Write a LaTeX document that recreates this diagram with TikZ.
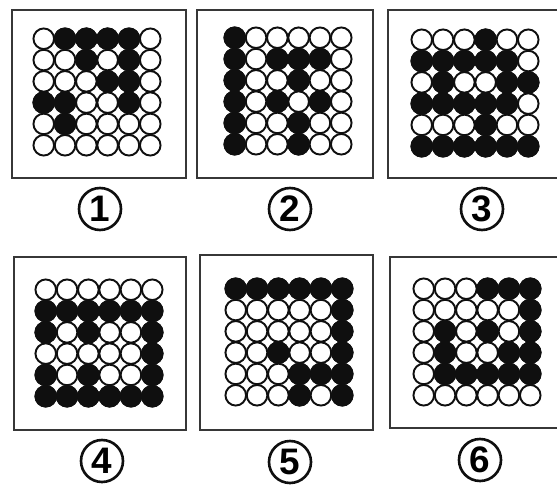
\documentclass[tikz,border=0pt]{standalone}
\usepackage{fontspec}
\setmainfont{Liberation Sans}
\usepackage{xcolor}
\definecolor{DotInk}{RGB}{15,15,15}
\definecolor{FrameGray}{RGB}{55,55,55}
\usetikzlibrary{positioning}

\begin{document}
\begin{tikzpicture}[x=0.02cm, y=-0.02cm]
\tikzstyle{dotw}=[draw=DotInk, fill=white, line width=1.1pt]
\tikzstyle{dotb}=[draw=DotInk, fill=DotInk, line width=1.1pt]
\tikzstyle{frame}=[draw=FrameGray, line width=1.6pt]
\tikzstyle{tag}=[circle, draw=DotInk, line width=1.5pt, minimum size=0.84cm, inner sep=0pt, font=\fontsize{21}{21}\selectfont\bfseries]

\useasboundingbox (0,0) rectangle (557,486);
\clip (0,0) rectangle (557,486);

\draw[frame] (12,10) rectangle (186,178);
\draw[frame] (197,10) rectangle (373,178);
\draw[frame] (388,10) rectangle (563,178);
\draw[frame] (14,257) rectangle (186,430);
\draw[frame] (200,255) rectangle (373,430);
\draw[frame] (390,257) rectangle (563,428);

% centre x / centre y / black cells as col/row
\foreach \cx/\cy/\blk in {
  97/92/{2/1,3/1,4/1,5/1,3/2,5/2,4/3,5/3,1/4,2/4,5/4,2/5},
  288/91/{1/1,1/2,3/2,4/2,5/2,1/3,4/3,1/4,3/4,5/4,1/5,4/5,1/6,4/6},
  475/93/{4/1,1/2,2/2,3/2,4/2,5/2,2/3,5/3,6/3,1/4,2/4,3/4,4/4,5/4,4/5,1/6,2/6,3/6,4/6,5/6,6/6},
  99/343/{1/2,2/2,3/2,4/2,5/2,6/2,1/3,3/3,6/3,6/4,1/5,3/5,6/5,1/6,2/6,3/6,4/6,5/6,6/6},
  289/342/{1/1,2/1,3/1,4/1,5/1,6/1,6/2,6/3,3/4,6/4,4/5,5/5,6/5,4/6,6/6},
  477/342/{4/1,5/1,6/1,6/2,2/3,4/3,6/3,2/4,5/4,6/4,2/5,3/5,4/5,5/5,6/5}}
{
  \foreach \i in {1,...,6}
    \foreach \j in {1,...,6}
      \draw[dotw] ({\cx+(\i-3.5)*21.3},{\cy+(\j-3.5)*21.3}) circle (10.3);
  \foreach \c/\r in \blk
    \draw[dotb] ({\cx+(\c-3.5)*21.3},{\cy+(\r-3.5)*21.3}) circle (10.3);
}

\node[tag] (lab1) at (100,209) {1};
\node[tag] (lab2) at (290,209) {2};
\node[tag] (lab3) at (482,209) {3};
\node[tag] (lab4) at (102,461) {4};
\node[tag] (lab5) at (290,462) {5};
\node[tag] (lab6) at (480,460) {6};
\end{tikzpicture}
\end{document}
